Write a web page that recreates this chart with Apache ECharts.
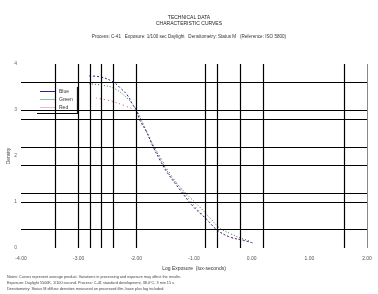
<!DOCTYPE html>
<html><head><meta charset="utf-8">
<script src="https://cdn.jsdelivr.net/npm/echarts@6/dist/echarts.min.js"></script>
<style>html,body{margin:0;padding:0;background:#fff}#c{width:378px;height:294px}</style>
</head><body><div id="c"></div>
<script>
// Data (log exposure, density)
const seriesNames = ['Blue', 'Green', 'Red'];
const blueX  = [-2.82,-2.63,-2.40,-2.28,-2.16,-2.06,-2.00,-1.94,-1.82,-1.71,-1.59,-1.47,-1.24,-1.02,-0.77,-0.60,-0.38,-0.15,0.02];
const blueY  = [3.74, 3.72, 3.61, 3.48, 3.33, 3.11, 3.00, 2.78, 2.52, 2.20, 1.91, 1.65, 1.26, 0.91, 0.61, 0.39, 0.24, 0.17, 0.11];
const greenX = [-2.82,-2.60,-2.40,-2.16,-2.00,-1.88,-1.76,-1.60,-1.42,-1.15,-0.90,-0.70,-0.55,-0.35,-0.20,-0.03];
const greenY = [3.57, 3.54, 3.48, 3.26, 3.00, 2.68, 2.35, 1.98, 1.59, 1.20, 0.89, 0.62, 0.43, 0.30, 0.22, 0.15];
const redX   = [-2.70,-2.46,-2.20,-2.00,-1.85,-1.72,-1.55,-1.35,-1.10,-0.85,-0.62,-0.40,-0.20,-0.03];
const redY   = [3.26, 3.20, 3.09, 2.96, 2.62, 2.28, 1.90, 1.50, 1.08, 0.72, 0.42, 0.25, 0.18, 0.13];
const xTicks = [-4, -3, -2, -1, 0, 1, 2];
const yTicks = [0, 1, 2, 3, 4];
const vGrid = [-3.4, -3.0, -2.8, -2.6, -2.4, -2.0, -0.8, -0.6, -0.2, 0.2, 1.6];
const hGrid = [3.6, 3.0, 2.8, 2.2, 1.8, 1.2, 1.0, 0.4];
const titleLines = ['TECHNICAL DATA', 'CHARACTERISTIC CURVES'];
const subtitle = 'Process: C-41   Exposure: 1/100 sec Daylight   Densitometry: Status M   (Reference: ISO 5800)';
const notes = [
  'Notes: Curves represent average product. Variations in processing and exposure may affect the results.',
  'Exposure: Daylight 5500K, 1/100 second. Process: C-41 standard development, 38.0\u00b0C, 3 min 15 s.',
  'Densitometry: Status M diffuse densities measured on processed film, base plus fog included.'
];

const pair = (xs, ys) => xs.map((x, i) => [x, ys[i]]);
const chart = echarts.init(document.getElementById('c'), null, {renderer: 'canvas'});
const gridLineStyle = {color: '#000', width: 1.2, type: 'solid'};
chart.setOption({
  animation: false,
  backgroundColor: '#fff',
  textStyle: {fontFamily: 'Liberation Sans'},
  title: [
    {text: titleLines.join('\n'), left: 'center', top: 10,
     textStyle: {fontSize: 5, fontWeight: 'normal', color: '#222', lineHeight: 6}},
    {text: subtitle, left: 'center', top: 29,
     textStyle: {fontSize: 4.6, fontWeight: 'normal', color: '#333'}},
    {text: notes.join('\n'), left: 2, top: 269,
     textStyle: {fontSize: 3.8, fontWeight: 'normal', color: '#444', lineHeight: 6}}
  ],
  legend: {
    orient: 'vertical', left: 36, top: 86,
    backgroundColor: '#fff', padding: [3, 4, 3, 4],
    shadowColor: '#000', shadowOffsetX: 1, shadowOffsetY: 1, shadowBlur: 0,
    itemWidth: 16, itemHeight: 1, itemGap: 3, icon: 'rect',
    textStyle: {fontSize: 5, color: '#333', padding: [0, 0, 0, -2]},
    data: seriesNames
  },
  grid: {left: 21, right: 11, top: 64, bottom: 46, outerBoundsMode: 'none', containLabel: false},
  xAxis: {
    type: 'value', min: -4, max: 2, interval: 1,
    axisLine: {show: false}, axisTick: {show: false}, splitLine: {show: false},
    axisLabel: {fontSize: 5, color: '#555', margin: 8, formatter: v => v.toFixed(2),
      customValues: xTicks},
    name: 'Log Exposure  (lux-seconds)', nameLocation: 'middle', nameGap: 14,
    nameTextStyle: {fontSize: 5, color: '#333'}
  },
  yAxis: {
    type: 'value', min: 0, max: 4, interval: 1,
    axisLine: {show: false}, axisTick: {show: false}, splitLine: {show: false},
    axisLabel: {fontSize: 5, color: '#666', margin: 4, customValues: yTicks},
    name: 'Density', nameLocation: 'middle', nameGap: 10, nameRotate: 90, nameMoveOverlap: false,
    nameTextStyle: {fontSize: 5, color: '#444'}
  },
  series: [
    {type: 'line', name: '_grid', data: [], silent: true, z: 1,
     markLine: {silent: true, symbol: 'none', label: {show: false}, lineStyle: gridLineStyle,
       data: vGrid.map(v => ({xAxis: v})).concat(hGrid.map(v => ({yAxis: v})))
         .concat([{xAxis: 2, lineStyle: {color: '#888', width: 1}}])}},
    {type: 'line', name: 'Blue', data: pair(blueX, blueY), smooth: 0.4, showSymbol: false, z: 3,
     lineStyle: {color: '#1f2a8c', width: 1, type: [2, 2]}, itemStyle: {color: '#1f2a8c'}},
    {type: 'line', name: 'Green', data: pair(greenX, greenY), smooth: 0.4, showSymbol: false, z: 3,
     lineStyle: {color: '#2f7a3a', width: 1, type: [1, 2]}, itemStyle: {color: '#8fbf94'}},
    {type: 'line', name: 'Red', data: pair(redX, redY), smooth: 0.4, showSymbol: false, z: 3,
     lineStyle: {color: '#d0457a', width: 1, type: [1, 3]}, itemStyle: {color: '#f0b8cc'}}
  ]
});
</script></body></html>
